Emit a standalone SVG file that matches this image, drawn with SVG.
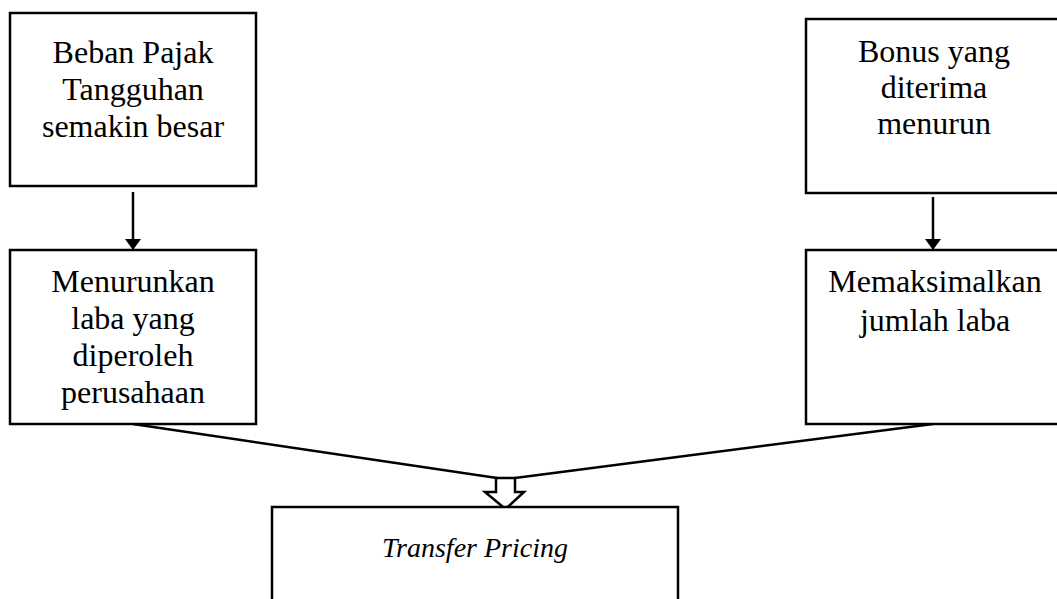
<svg xmlns="http://www.w3.org/2000/svg" width="1057" height="599" viewBox="0 0 1057 599">
<style>
.box{fill:#fff;stroke:#000;stroke-width:2.5}
.t{font-family:"Liberation Serif","Times New Roman",serif;font-size:32px;fill:#000;text-anchor:middle}
.ti{font-family:"Liberation Serif","Times New Roman",serif;font-size:28px;font-style:italic;fill:#000;text-anchor:middle}
.ln{stroke:#000;stroke-width:2.5;fill:none}
</style>
<defs>
<marker id="ah" markerWidth="8" markerHeight="8" refX="6" refY="4" orient="auto" markerUnits="userSpaceOnUse" viewBox="0 0 8 8">
<path d="M0,0 L8,4 L0,8 Z" fill="#000"/>
</marker>
</defs>
<rect width="1057" height="599" fill="#fff"/>
<g id="connectors">
<line class="ln" x1="133" y1="192" x2="133" y2="240"/>
<path d="M125,239 L141,239 L133,250 Z" fill="#000"/>
<line class="ln" x1="933" y1="197" x2="933" y2="240"/>
<path d="M925,239 L941,239 L933,250 Z" fill="#000"/>
<line class="ln" x1="133" y1="424" x2="497" y2="478"/>
<line class="ln" x1="933" y1="424" x2="515" y2="478"/>
<path d="M496,478 L515,478 L515,492 L524,492 L505.5,509 L485,492 L496,492 Z" fill="#fff" stroke="#000" stroke-width="2.5" stroke-linejoin="miter"/>
</g>
<g id="node-beban">
<rect class="box" x="10" y="13" width="246" height="173"/>
<text class="t" x="133" y="63">Beban Pajak</text>
<text class="t" x="133" y="100">Tangguhan</text>
<text class="t" x="133" y="137">semakin besar</text>
</g>
<g id="node-bonus">
<rect class="box" x="806" y="19" width="258" height="174"/>
<text class="t" x="934" y="62">Bonus yang</text>
<text class="t" x="934" y="98">diterima</text>
<text class="t" x="934" y="134">menurun</text>
</g>
<g id="node-menurunkan">
<rect class="box" x="10" y="250" width="246" height="174"/>
<text class="t" x="133" y="292">Menurunkan</text>
<text class="t" x="133" y="329">laba yang</text>
<text class="t" x="133" y="366">diperoleh</text>
<text class="t" x="133" y="403">perusahaan</text>
</g>
<g id="node-memaksimalkan">
<rect class="box" x="806" y="250" width="258" height="174"/>
<text class="t" x="935" y="292">Memaksimalkan</text>
<text class="t" x="935" y="331">jumlah laba</text>
</g>
<g id="node-transfer">
<rect class="box" x="272" y="507" width="406" height="110"/>
<text class="ti" x="475" y="557">Transfer Pricing</text>
</g>
</svg>
